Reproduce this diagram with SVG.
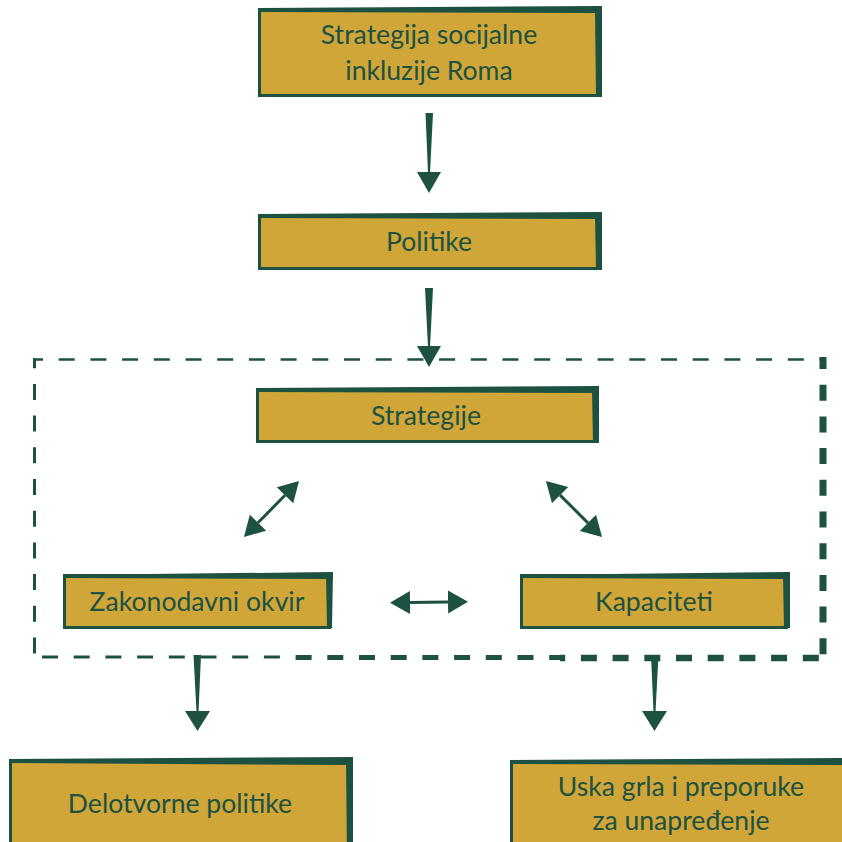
<svg xmlns="http://www.w3.org/2000/svg" width="842" height="842" viewBox="0 0 842 842">
<style>
.bx{fill:#CFA637;stroke:#1D5142;stroke-width:3}
.ed{fill:#1D5142}
.t{font-family:Lato,"Open Sans","Liberation Sans",sans-serif;font-size:26.6px;fill:#1D5142;text-anchor:middle}
.ar{fill:#1D5142}
.dl{stroke:#1D5142;stroke-width:3;fill:none;marker-start:url(#h);marker-end:url(#h)}
.dash{fill:none;stroke:#1D5142;stroke-dasharray:16 15.7}
</style>
<defs>
<marker id="h" markerUnits="userSpaceOnUse" markerWidth="22" markerHeight="24" refX="0" refY="11.5" orient="auto-start-reverse" viewBox="0 0 22 24">
<path d="M0,0 L20,11.5 L0,23 Z" fill="#1D5142"/>
</marker>
<clipPath id="c1"><rect x="20" y="640" width="260" height="40"/></clipPath>
<clipPath id="c2"><rect x="280" y="640" width="280" height="40"/></clipPath>
<clipPath id="c3"><rect x="560" y="640" width="280" height="40"/></clipPath>
</defs>

<g id="frame">
<path class="dash" d="M33,359.5 H823" stroke-width="2.6" stroke-dashoffset="6"/>
<path class="dash" d="M34.5,358.2 V657" stroke-width="3" stroke-dashoffset="6"/>
<path class="dash" d="M823,357 V660" stroke-width="7" stroke-dashoffset="4"/>
<path class="dash" d="M33,657 H826" stroke-width="3.2" stroke-dashoffset="-9" clip-path="url(#c1)"/>
<path class="dash" d="M33,657.5 H826" stroke-width="5" stroke-dashoffset="-9" clip-path="url(#c2)"/>
<path class="dash" d="M33,658 H826" stroke-width="6.5" stroke-dashoffset="-9" clip-path="url(#c3)"/>
</g>

<g id="n1">
<rect class="bx" x="259.5" y="9.5" width="340" height="86"/>
<polygon class="ed" points="258,8 602,6 602,13 258,12"/>
<polygon class="ed" points="595,8 602,6 602,97 596,97"/>
<text class="t" x="429" y="44">Strategija socijalne</text>
<text class="t" x="429" y="80">inkluzije Roma</text>
</g>

<g id="n2">
<rect class="bx" x="259.5" y="215.5" width="340" height="53"/>
<polygon class="ed" points="258,214 602,212 602,219 258,218"/>
<polygon class="ed" points="595,214 602,212 602,270 596,270"/>
<text class="t" x="429" y="251">Politike</text>
</g>

<g id="n3">
<rect class="bx" x="257.5" y="389.5" width="338" height="52"/>
<polygon class="ed" points="256,388 599,386 599,393 256,392"/>
<polygon class="ed" points="592,388 599,386 599,443 593,443"/>
<text class="t" x="426" y="425">Strategije</text>
</g>

<g id="n4">
<rect class="bx" x="64.5" y="575.5" width="265" height="52"/>
<polygon class="ed" points="63,575 333,572 333,579 63,578"/>
<polygon class="ed" points="326,574 333,572 332,628 327,628"/>
<text class="t" x="197" y="611">Zakonodavni okvir</text>
</g>

<g id="n5">
<rect class="bx" x="521.5" y="575.5" width="265" height="52"/>
<polygon class="ed" points="520,575 790,572 790,579 520,578"/>
<polygon class="ed" points="783,574 790,572 790,628 784,628"/>
<text class="t" x="654" y="611">Kapaciteti</text>
</g>

<g id="n6">
<rect class="bx" x="10.5" y="760.5" width="338" height="100"/>
<polygon class="ed" points="9,759 353,757 353,765 9,763"/>
<polygon class="ed" points="346,759 353,757 353,860 347,860"/>
<text class="t" x="180" y="813">Delotvorne politike</text>
</g>

<g id="n7">
<rect class="bx" x="511.5" y="761.5" width="360" height="100"/>
<polygon class="ed" points="510,760 850,758 850,765 510,764"/>
<text class="t" x="681" y="796">Uska grla i preporuke</text>
<text class="t" x="681" y="830">za unapređenje</text>
</g>

<g id="connectors">
<polygon class="ar" points="425.5,113 433,113 430,173 428,173"/>
<polygon class="ar" points="417,172 441,172 429,193"/>
<polygon class="ar" points="425,288 433,288 430,347 428,347"/>
<polygon class="ar" points="417,346 441,346 429,367"/>
<polygon class="ar" points="193.5,655 201,655 198.5,712 196.5,712"/>
<polygon class="ar" points="185,711 210,711 197.5,731"/>
<polygon class="ar" points="651,655 658.5,655 655.5,712 653.5,712"/>
<polygon class="ar" points="642,711 667,711 654.5,731"/>
<path class="dl" d="M258,522.7 L285,495.3"/>
<path class="dl" d="M560.1,495.1 L587.9,522.9"/>
<path class="dl" d="M410,602.5 L448,602"/>
</g>
</svg>
